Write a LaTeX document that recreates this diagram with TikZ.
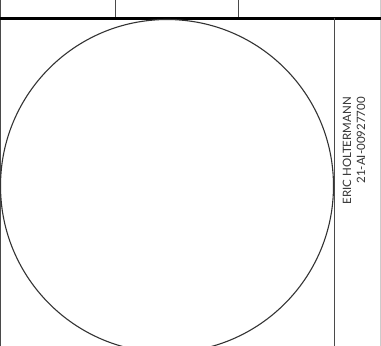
\documentclass[tikz,border=0pt]{standalone}
\usepackage{fontspec}
\setmainfont{Lato}
\definecolor{FrameGray}{HTML}{4A4A4A}
\definecolor{EdgeGray}{HTML}{CCCCCC}
\definecolor{InkGray}{HTML}{333333}
\usetikzlibrary{positioning}

\begin{document}
\begin{tikzpicture}[x=1pt,y=-1pt,font=\fontsize{11.5}{14}\selectfont,
    thinrule/.style={draw=FrameGray, line width=1pt},
    titlerule/.style={draw=black, line width=3pt}]
    \useasboundingbox (0,0) rectangle (381,346);
    % page edges
    \draw[FrameGray, line width=1.2pt] (0.6,0) -- (0.6,346);
    \draw[EdgeGray, line width=1pt] (380.5,0) -- (380.5,346);
    % title strip
    \draw[thinrule] (115,0) -- (115,18);
    \draw[thinrule] (238.5,0) -- (238.5,18);
    \draw[titlerule] (0,18) -- (381,18);
    % side strip
    \draw[FrameGray, line width=1.4pt] (334.5,18) -- (334.5,346);
    % the circle
    \draw[InkGray, line width=1.1pt] (167,186) circle (166.5);
    \node[rotate=90, anchor=north east, inner sep=0pt, align=right, text=InkGray]
      (owner) at (342.5,97) {ERIC HOLTERMANN\\21-AI-00927700};
  \end{tikzpicture}
\end{document}
